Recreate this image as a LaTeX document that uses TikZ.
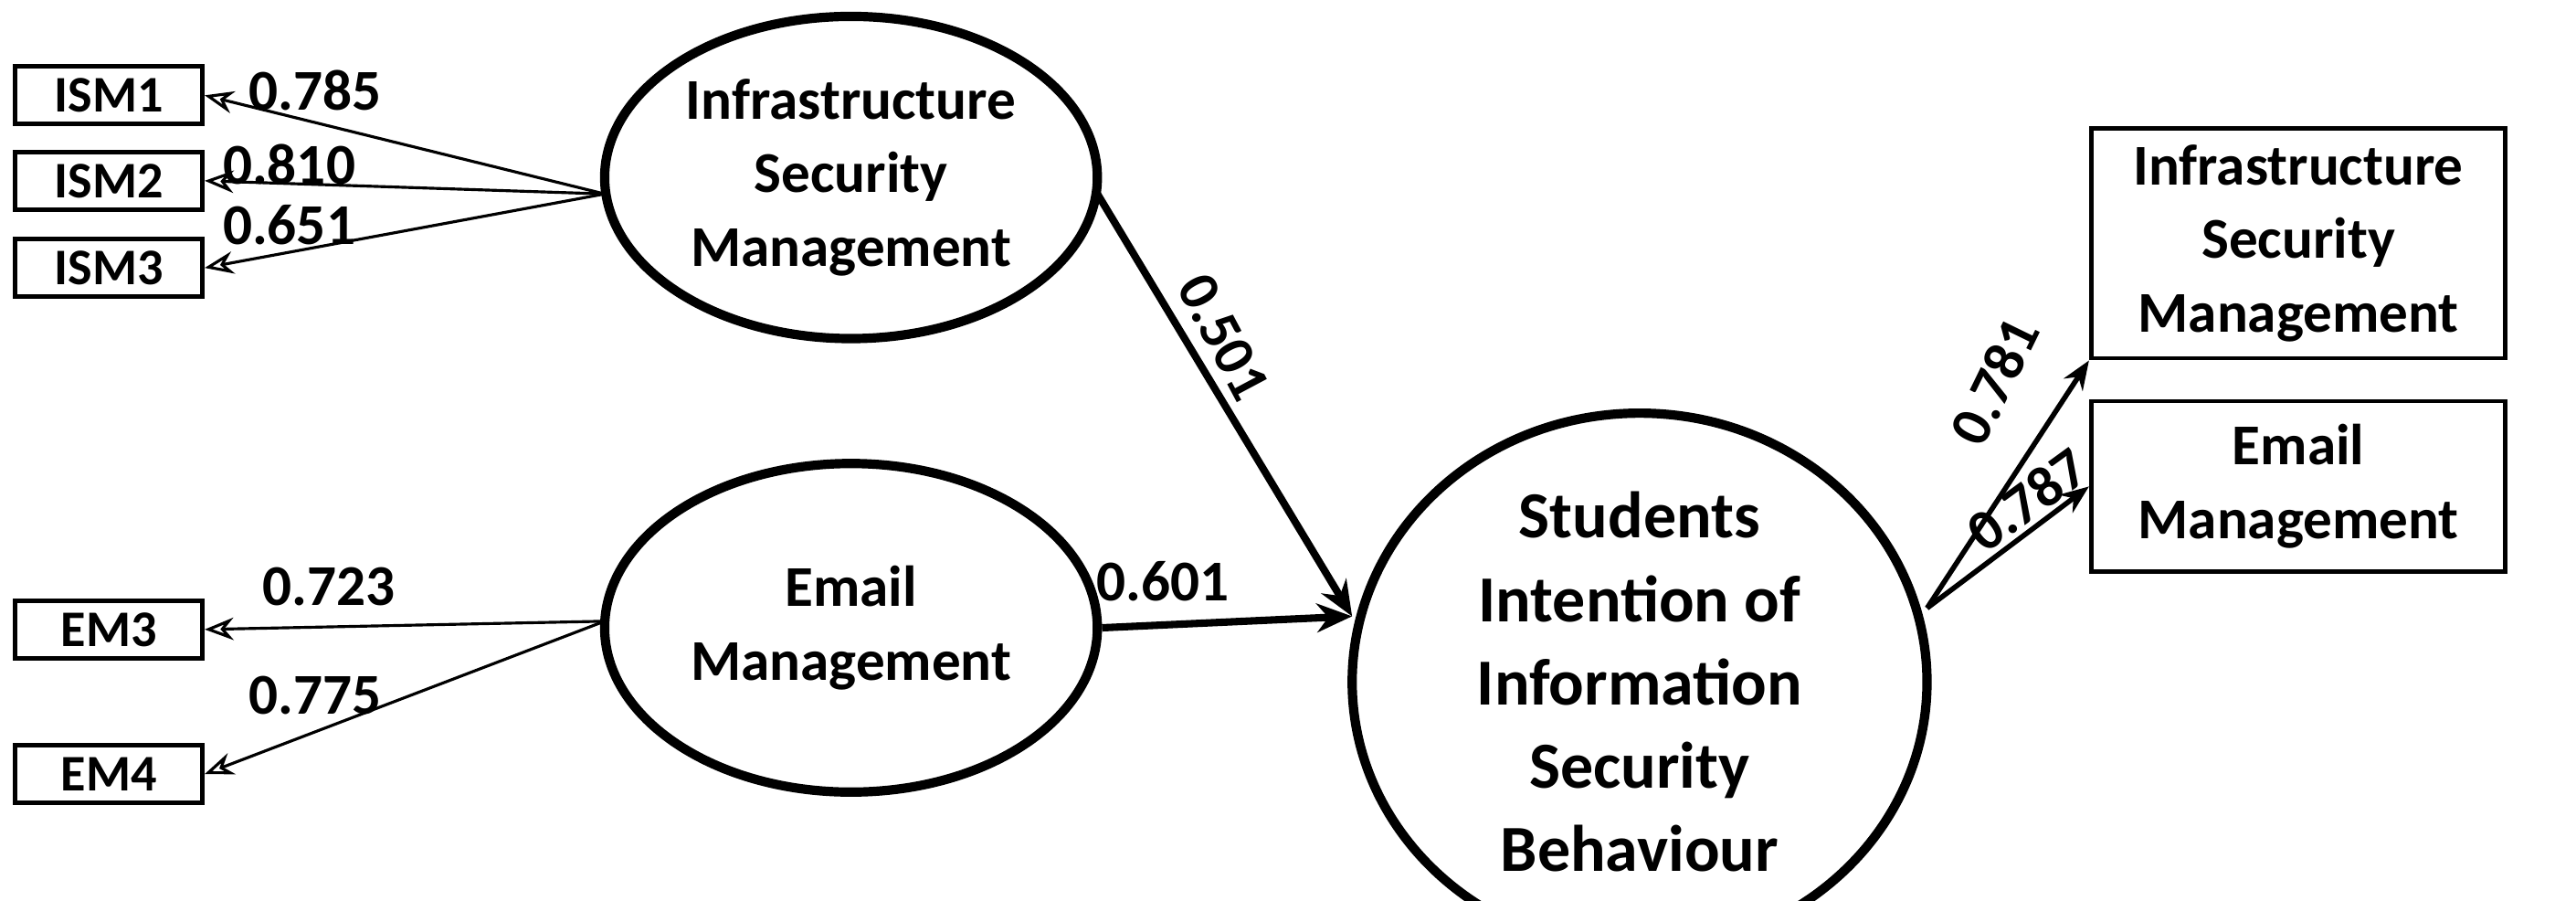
\documentclass[tikz,border=0pt]{standalone}
\usepackage{fontspec}
\setmainfont{Carlito}
\usetikzlibrary{shapes.geometric,arrows.meta}
\begin{document}
\begin{tikzpicture}[x=0.018cm,y=-0.018cm,
  lat/.style={ellipse,draw,line width=2.9pt,font=\bfseries\fontsize{18}{23}\selectfont,align=center,inner sep=0pt},
  ind/.style={draw,line width=1.4pt,font=\bfseries\fontsize{16}{18}\selectfont,minimum width=2.05cm,minimum height=0.63cm,inner sep=0pt},
  big/.style={draw,line width=1.4pt,font=\bfseries\fontsize{18}{23}\selectfont,align=center,minimum width=4.54cm,inner sep=0pt},
  thin/.style={-{Stealth[length=9pt,width=7pt,open]},line width=0.9pt},
  thick/.style={-{Stealth[length=11pt,width=9pt,open]},line width=2.3pt},
  lab/.style={font=\bfseries\fontsize{18}{20}\selectfont,inner sep=1pt}]
\useasboundingbox (0,0) rectangle (1568,548);
\node[lat,minimum width=5.4cm,minimum height=3.53cm] (ism) at (518,108) {Infrastructure\\Security\\Management};
\node[lat,minimum width=5.4cm,minimum height=3.6cm] (em) at (518,382) {Email\\Management};
\node[lat,minimum width=6.3cm,minimum height=5.58cm,font=\bfseries\fontsize{20.5}{26}\selectfont] (sib) at (998,415) {Students\\Intention of\\Information\\Security\\Behaviour};
\node[ind,anchor=west] (i1) at (8,58) {ISM1};
\node[ind,anchor=west] (i2) at (8,110) {ISM2};
\node[ind,anchor=west] (i3) at (8,163) {ISM3};
\node[ind,anchor=west] (e3) at (8,383) {EM3};
\node[ind,anchor=west] (e4) at (8,471) {EM4};
\node[big,minimum height=2.52cm] (r1) at (1399,148) {Infrastructure\\Security\\Management};
\node[big,minimum height=1.87cm] (r2) at (1399,296) {Email\\Management};
\coordinate (ip) at (368,118);
\coordinate (ep) at (368,378);
\coordinate (sp) at (1173,370);
\draw[thin] (ip) -- (i1.east);
\draw[thin] (ip) -- (i2.east);
\draw[thin] (ip) -- (i3.east);
\draw[thin] (ep) -- (e3.east);
\draw[thin] (ep) -- (e4.east);
\draw[thick] (668,118) -- (823,375);
\draw[thick] (em.east) -- (823,375);
\draw[thin,line width=1.6pt] (sp) -- (r1.south west);
\draw[thin,line width=1.6pt] (sp) -- (r2.west);
\node[lab] at (192,55) {0.785};
\node[lab] at (176,100) {0.810};
\node[lab] at (176,137) {0.651};
\node[lab] at (200,357) {0.723};
\node[lab] at (192,423) {0.775};
\node[lab,rotate=-62] at (745,205) {0.501};
\node[lab] at (708,354) {0.601};
\node[lab] at (998,610) {0.778};
\node[lab,rotate=64] at (1214,232) {0.781};
\node[lab,rotate=36] at (1234,304) {0.787};
\end{tikzpicture}
\end{document}
